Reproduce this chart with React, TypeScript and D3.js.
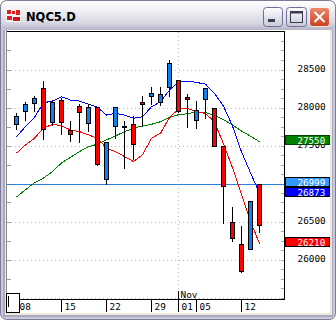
import React from 'react';
import * as d3 from 'd3';

const title = 'NQC5.D';
const dates = [
  '2012-10-08', '2012-10-09', '2012-10-10', '2012-10-11', '2012-10-12',
  '2012-10-15', '2012-10-16', '2012-10-17', '2012-10-18', '2012-10-19',
  '2012-10-22', '2012-10-23', '2012-10-24', '2012-10-25', '2012-10-26',
  '2012-10-29', '2012-10-30', '2012-10-31', '2012-11-01', '2012-11-02',
  '2012-11-05', '2012-11-06', '2012-11-07', '2012-11-08', '2012-11-09',
  '2012-11-12', '2012-11-13', '2012-11-14',
];
const opens = [27779, 27950, 28054, 28251, 27805, 28094, 27704, 28015, 27796, 28002, 27062, 27761, 27761, 27779, 28071, 28154, 28075, 28272, 28360, 28137, 27832, 28107, 27989, 27491, 26495, 26207, 26141, 26997];
const highs = [27923, 28075, 28154, 28347, 28098, 28120, 27822, 28045, 28045, 28010, 27543, 28002, 27826, 27888, 28150, 28272, 28264, 28622, 28365, 28180, 28088, 28260, 27995, 27495, 26691, 26446, 26773, 27000];
const lows = [27718, 27836, 27957, 27583, 27770, 27648, 27564, 27551, 27695, 27250, 26997, 27596, 27210, 27324, 27757, 28045, 28032, 28154, 27936, 27740, 27727, 27866, 27491, 26482, 26240, 25834, 26141, 26358];
const closes = [27888, 28045, 28120, 27718, 28071, 27805, 27648, 27936, 28002, 27255, 27543, 28002, 27748, 27517, 28041, 28189, 28176, 28592, 27953, 28107, 27967, 28255, 27491, 26971, 26280, 25847, 26773, 26455];
const maBlue = [27617, 27748, 27871, 28062, 28085, 28141, 28098, 28085, 28045, 28002, 27901, 27923, 27901, 27858, 27879, 28010, 28075, 28229, 28337, 28347, 28330, 28307, 28185, 28019, 27757, 27416, 27141, 26873];
const maRed = [27399, 27508, 27596, 27727, 27779, 27761, 27704, 27682, 27639, 27596, 27465, 27420, 27355, 27289, 27377, 27596, 27661, 27868, 27980, 27989, 27944, 27923, 27809, 27521, 27206, 26853, 26499, 26210];
const maGreen = [26822, 26918, 27010, 27071, 27158, 27270, 27344, 27420, 27486, 27517, 27573, 27626, 27682, 27727, 27757, 27779, 27813, 27871, 27905, 27918, 27940, 27934, 27895, 27842, 27770, 27691, 27622, 27550];
const hLineValue = 26999;
const priceTicks = [28500, 28000, 27500, 26500, 26000];
const monthNames = ['Jan', 'Feb', 'Mar', 'Apr', 'May', 'Jun', 'Jul', 'Aug', 'Sep', 'Oct', 'Nov', 'Dec'];

const MONO = '"DejaVu Sans Mono", "Liberation Mono", monospace';

export default function App() {
  const n = dates.length;
  const x = d3.scaleLinear().domain([0, n - 1]).range([16.5, 16.5 + 9 * (n - 1)]);
  const y = d3.scaleLinear().domain([26000, 28500]).range([259.5, 69.5]);
  const plotL = 7, plotR = 284.5, plotT = 31.5, plotB = 299.5;
  const parsed = dates.map((s) => new Date(s + 'T00:00:00'));

  const gridMajor = d3.range(25500, 29001, 500).filter((v) => y(v) > plotT && y(v) < plotB);
  const gridMinor = d3.range(25500, 29001, 250).filter((v) => y(v) > plotT && y(v) < plotB);
  const gridFine = d3.range(25500, 29001, 125).filter((v) => y(v) > plotT && y(v) < plotB);

  const line = (arr: number[]) =>
    d3.line<number>().x((_, i) => x(i)).y((v) => y(v))(arr) || '';

  const labels: { i: number; text: string; month: boolean }[] = [];
  parsed.forEach((d, i) => {
    const monthStart = i > 0 && d.getMonth() !== parsed[i - 1].getMonth();
    if (d.getDay() === 1 || monthStart || i === 0) {
      labels.push({ i, text: String(d.getDate()).padStart(2, '0'), month: monthStart });
    }
  });

  const boxes = [
    { v: 27550, fill: '#008000', stroke: '#004000' },
    { v: hLineValue, fill: '#3399ff', stroke: '#000000' },
    { v: 26873, fill: '#0000ff', stroke: '#000000' },
    { v: 26210, fill: '#ff0000', stroke: '#000000' },
  ];

  return (
    <svg width={336} height={320} style={{ position: 'absolute', left: 0, top: 0 }}>
      <defs>
        <linearGradient id="tb" x1="0" y1="0" x2="0" y2="1">
          <stop offset="0" stopColor="#ffffff" />
          <stop offset="0.35" stopColor="#eeeef4" />
          <stop offset="0.75" stopColor="#d8d8e4" />
          <stop offset="1" stopColor="#b4b4c6" />
        </linearGradient>
        <linearGradient id="btn" x1="0" y1="0" x2="0" y2="1">
          <stop offset="0" stopColor="#ffffff" />
          <stop offset="1" stopColor="#c8c8d8" />
        </linearGradient>
        <linearGradient id="cls" x1="0" y1="0" x2="0" y2="1">
          <stop offset="0" stopColor="#ee8a70" />
          <stop offset="1" stopColor="#c8401e" />
        </linearGradient>
      </defs>
      {/* window frame */}
      <rect x={0.5} y={0.5} width={335} height={319} rx={6} fill="#c8c8d8" stroke="#7c7c98" />
      <rect x={1} y={1} width={334} height={29} rx={6} fill="url(#tb)" />
      <rect x={3} y={30} width={330} height={287} fill="#a8a8c0" />
      <rect x={5} y={30} width={327} height={285} fill="#ece9d8" />
      <rect x={6} y={30} width={324} height={283} fill="#ffffff" />
      <line x1={6.5} y1={30} x2={6.5} y2={313} stroke="#8c8c8c" />
      {/* icon */}
      <rect x={6} y={9} width={15} height={13} fill="#f4f4f4" />
      <rect x={7} y={10} width={4} height={4} fill="#e02020" />
      <rect x={12} y={11} width={3} height={3} fill="#e02020" />
      <rect x={16} y={10} width={4} height={5} fill="#e02020" />
      <rect x={7} y={16} width={5} height={4} fill="#e02020" />
      <rect x={13} y={17} width={7} height={4} fill="#c81818" />
      <text x={26} y={21} fontFamily='"DejaVu Sans", sans-serif' fontWeight="bold" fontSize={11.5} fill="#000">{title}</text>
      {/* buttons */}
      <rect x={263.5} y={7.5} width={19} height={19} rx={3} fill="url(#btn)" stroke="#6e6e98" />
      <rect x={268} y={19} width={7} height={3} fill="#3c3c50" />
      <rect x={286.5} y={7.5} width={20} height={19} rx={3} fill="url(#btn)" stroke="#6e6e98" />
      <rect x={290.5} y={11.5} width={12} height={11} fill="none" stroke="#3c3c50" />
      <rect x={290.5} y={11.5} width={12} height={2} fill="#3c3c50" />
      <rect x={309.5} y={7.5} width={20} height={19} rx={3} fill="url(#cls)" stroke="#ffffff" strokeOpacity={0.8} />
      <path d="M314.5,12 L324.5,22 M324.5,12 L314.5,22" stroke="#ffffff" strokeWidth={2} />

      {/* plot */}
      <rect x={plotL} y={plotT} width={plotR - plotL} height={plotB - plotT} fill="#ffffff" />
      <g shapeRendering="crispEdges">
        {gridMajor.map((v) => (
          <line key={'g' + v} x1={plotL + 4} x2={plotR - 4} y1={Math.round(y(v)) + 0.5} y2={Math.round(y(v)) + 0.5} stroke="#b8b8b8" strokeDasharray="1,3" />
        ))}
        {gridMinor.map((v) => (
          <line key={'m' + v} x1={plotL} x2={plotL + 4} y1={Math.round(y(v)) + 0.5} y2={Math.round(y(v)) + 0.5} stroke="#a0a0a0" />
        ))}
        {gridFine.map((v) => (
          <line key={'f' + v} x1={plotR - 4} x2={plotR} y1={Math.round(y(v)) + 0.5} y2={Math.round(y(v)) + 0.5} stroke="#a8a8a8" />
        ))}
        {labels.filter((l) => l.month).map((l) => (
          <line key={'v' + l.i} x1={Math.floor(x(l.i)) + 0.5} x2={Math.floor(x(l.i)) + 0.5} y1={plotT} y2={plotB} stroke="#b8b8b8" strokeDasharray="1,3" />
        ))}
        <line x1={plotL} x2={plotR} y1={Math.round(y(hLineValue)) + 0.5} y2={Math.round(y(hLineValue)) + 0.5} stroke="#2a82da" />
      </g>
      <g shapeRendering="crispEdges" fill="none" strokeWidth={1}>
        <path d={line(maGreen)} stroke="#008000" />
        <path d={line(maRed)} stroke="#ff0000" />
        <path d={line(maBlue)} stroke="#0000ff" />
      </g>
      <g shapeRendering="crispEdges">
        {dates.map((_, i) => {
          const cx = Math.floor(x(i)) + 0.5;
          const up = closes[i] >= opens[i];
          const top = Math.round(y(Math.max(opens[i], closes[i])));
          const bot = Math.round(y(Math.min(opens[i], closes[i])));
          return (
            <g key={i}>
              <line x1={cx} x2={cx} y1={Math.round(y(highs[i]))} y2={Math.round(y(lows[i])) + 1} stroke="#000" />
              <rect x={cx - 2} y={top + 0.5} width={4} height={Math.max(1, bot - top)} fill={up ? '#1080f0' : '#ff0000'} stroke="#000" />
            </g>
          );
        })}
      </g>
      {/* borders */}
      <g shapeRendering="crispEdges">
        <line x1={plotL} x2={plotR + 0.5} y1={plotT} y2={plotT} stroke="#000" />
        <line x1={plotR} x2={plotR} y1={plotT} y2={plotB} stroke="#000" />
        <line x1={plotL} x2={plotR + 0.5} y1={plotB} y2={plotB} stroke="#000" />
      </g>
      {/* x axis */}
      <g shapeRendering="crispEdges">
        {labels.map((l) => {
          const sx = Math.floor(x(l.i)) + 0.5;
          return (
            <g key={'xl' + l.i}>
              {l.i > 0 && <line x1={sx} x2={sx} y1={l.month ? 291 : plotB} y2={312} stroke="#000" />}
              {l.month && (
                <text x={sx + 2} y={297.5} fontFamily={MONO} fontSize={9.4} fill="#000">{monthNames[parsed[l.i].getMonth()]}</text>
              )}
              <text x={sx + 3} y={310} fontFamily={MONO} fontSize={9.4} fill="#000">{l.text}</text>
            </g>
          );
        })}
        <rect x={6.5} y={293.5} width={13} height={19} fill="#ffffff" stroke="#000" />
        <line x1={8.5} x2={8.5} y1={296} y2={307} stroke="#000" />
      </g>
      {/* price axis */}
      {priceTicks.map((v) => (
        <text key={'pt' + v} x={297.5} y={y(v) + 2} fontFamily={MONO} fontSize={9.4} fill="#000">{v}</text>
      ))}
      {boxes.map((b) => {
        const top = Math.round(y(b.v) - 6.5);
        return (
          <g key={'bx' + b.v}>
            <rect x={285.5} y={top + 0.5} width={44} height={9} fill={b.fill} stroke={b.stroke} shapeRendering="crispEdges" />
            <text x={297.5} y={top + 8.5} fontFamily={MONO} fontSize={9.2} fill="#ffffff">{b.v}</text>
          </g>
        );
      })}
    </svg>
  );
}
